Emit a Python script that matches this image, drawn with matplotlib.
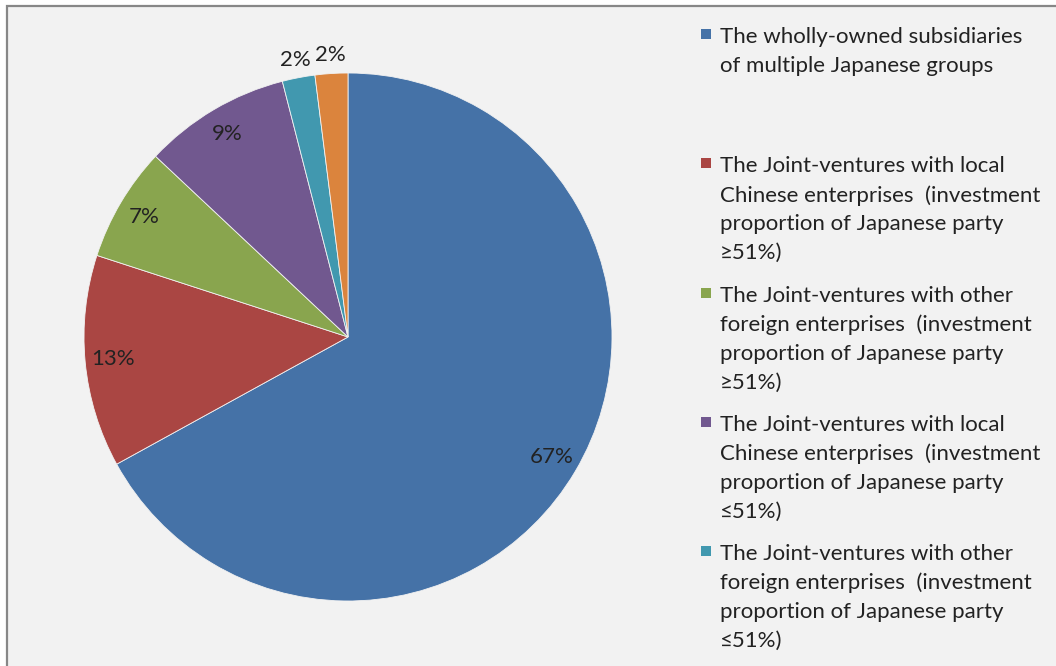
import matplotlib
matplotlib.use("Agg")
import matplotlib.pyplot as plt
from matplotlib.patches import Rectangle
import numpy as np

# Ownership structure of Japanese-invested enterprises
categories = [
    "The wholly-owned subsidiaries\nof multiple Japanese groups",
    "The Joint-ventures with local\nChinese enterprises  (investment\nproportion of Japanese party\n\u226551%)",
    "The Joint-ventures with other\nforeign enterprises  (investment\nproportion of Japanese party\n\u226551%)",
    "The Joint-ventures with local\nChinese enterprises  (investment\nproportion of Japanese party\n\u226451%)",
    "The Joint-ventures with other\nforeign enterprises  (investment\nproportion of Japanese party\n\u226451%)",
    "Others",
]
shares = [67, 13, 7, 9, 2, 2]
colors = ["#4572A7", "#AA4643", "#89A54E", "#71588F", "#4198AF", "#DB843D"]

W, H = 1056, 666
plt.rcParams["font.family"] = ["Lato", "DejaVu Sans"]
fig = plt.figure(figsize=(W / 100, H / 100), dpi=100)
fig.patch.set_facecolor("white")

# chart area frame
frame = Rectangle((7 / W, -0.05), 1.1, 1 - 6 / H + 0.05, transform=fig.transFigure,
                  facecolor="#f2f2f2", edgecolor="#878787", linewidth=1.6, zorder=-5)
fig.patches.append(frame)

cx, cy, r = 348, H - 337, 264
ax = fig.add_axes([(cx - r) / W, (cy - r) / H, 2 * r / W, 2 * r / H], zorder=2)
ax.set_facecolor("none")
wedges, _ = ax.pie(shares, colors=colors, startangle=90, counterclock=False,
                   radius=1.0, wedgeprops=dict(edgecolor="#f2f2f2", linewidth=0.6))
ax.set_xlim(-1, 1)
ax.set_ylim(-1, 1)
ax.set_aspect("equal")
ax.axis("off")

for w, v in zip(wedges, shares):
    mid = np.deg2rad((w.theta1 + w.theta2) / 2)
    d = 0.895 if v >= 5 else 1.07
    ax.text(d * np.cos(mid), d * np.sin(mid), f"{v}%", ha="center", va="center",
            fontsize=16, color="#222222", clip_on=False)

# legend entries
x_marker, x_text = 706, 720
line_h = 29
for i, (lab, col) in enumerate(zip(categories, colors)):
    y0 = 37 + i * 129.3
    if y0 > H:
        continue
    fig.patches.append(Rectangle(((x_marker - 5) / W, 1 - (y0 - 3 + 5) / H), 10 / W, 10 / H,
                                 transform=fig.transFigure, facecolor=col,
                                 edgecolor="none", zorder=3))
    for j, line in enumerate(lab.split("\n")):
        fig.text(x_text / W, 1 - (y0 + j * line_h) / H, line, ha="left", va="center",
                 fontsize=16, color="#222222")

fig.savefig("out.png", dpi=100)
